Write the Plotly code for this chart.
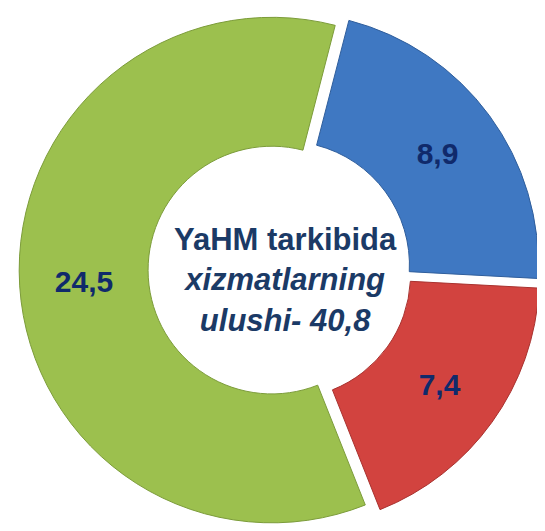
import plotly.graph_objects as go

# Data
categories = ["Blue", "Red", "Green"]
values = [8.9, 7.4, 24.5]
labels_text = ["8,9", "7,4", "24,5"]
total_text = "40,8"

colors = ["#3F78C2", "#D2433F", "#9CC04E"]
edge_colors = ["#2F5E9C", "#A8322F", "#7C9C3A"]

W, H = 545, 531
OFF = 8  # page body margin offset

box = 523.2
cx_win, cy_top = 279.5, 0
x0 = cx_win - OFF - box / 2

fig = go.Figure()
fig.add_trace(go.Pie(
    labels=categories,
    values=values,
    text=labels_text,
    textinfo="text",
    textposition="inside",
    insidetextorientation="horizontal",
    textfont=dict(family="Liberation Sans, Arial, sans-serif", size=30, color="#102A6B", weight="bold"),
    hole=0.49,
    sort=False,
    direction="clockwise",
    rotation=14.5,
    pull=[0.03, 0.035, 0.03],
    marker=dict(colors=colors, line=dict(color=edge_colors, width=1)),
    domain=dict(x=[x0 / W, (x0 + box) / W], y=[1 - box / H, 1]),
    showlegend=False,
    hoverinfo="skip",
))

fig.add_annotation(
    x=(285 - OFF) / W, y=1 - (280 - OFF) / H, xref="paper", yref="paper",
    text=("<b>YaHM tarkibida</b><br><b><i>xizmatlarning</i></b><br>"
          "<b><i>ulushi- " + total_text + "</i></b>"),
    showarrow=False, align="center",
    font=dict(family="Liberation Sans, Arial, sans-serif", size=31, color="#1B3A66"),
)

fig.update_layout(
    width=W, height=H,
    margin=dict(l=0, r=0, t=0, b=0),
    paper_bgcolor="white", plot_bgcolor="white",
)

fig.write_html("out.html")
